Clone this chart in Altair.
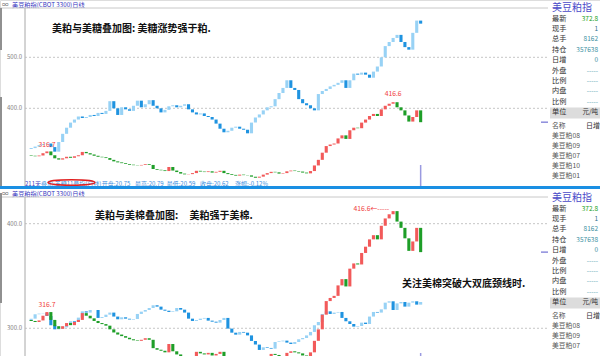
import altair as alt
import pandas as pd

FONT = "Noto Sans CJK SC"
NB = "\u00a0"

# ---------------- data read from the picture (100 sampled sessions) ----------------
# 美豆粕指 closes (left axis, 元/吨)
meal_close = [307, 306, 307.5, 312, 315.5, 308, 302, 299.5, 302, 305,
              303, 306, 308, 314.5, 312, 309.5, 307, 305, 304, 302.5,
              299, 296, 294, 292.5, 291, 289.5, 288.5, 288, 289, 290.5,
              289, 281, 279.5, 278.5, 277, 285, 278, 275, 272, 270.5,
              271, 273, 277.5, 276, 275, 276.5, 274, 275.5, 277.5, 273,
              271, 269.5, 268, 270, 269, 268.5, 266, 264, 266, 270,
              273, 275.5, 274.5, 272, 273, 276.5, 278, 277, 276, 274,
              272.5, 277, 288, 299, 313, 326, 329, 331, 341, 347,
              340, 357, 362, 361, 372, 378, 385, 389, 385, 398,
              405, 409, 412, 402, 396, 386, 374, 383, 396, 372.8]
meal_first_open = 308

# 美糖11号指 overlay, expressed on the top panel's axis
sugar_close = [322, 325, 328, 330, 331, 324, 315, 334, 350, 362,
               372, 378, 384, 381, 383, 387, 385, 391, 389, 395,
               414, 400, 387, 402, 398, 395, 405, 415, 402, 408,
               416, 405, 400, 392, 397, 404, 406, 402, 405, 408,
               398, 392, 388, 390, 385, 383, 378, 370, 360, 353,
               356, 362, 364, 360, 358, 351, 372, 382, 388, 396,
               402, 404, 418, 430, 440, 455, 440, 436, 418, 410,
               406, 400, 396, 428, 434, 438, 443, 446, 450, 455,
               440, 455, 468, 466, 470, 466, 460, 472, 482, 500,
               522, 530, 538, 544, 530, 520, 515, 548, 572, 566]
sugar_first_open = 320

# 美棉 overlay, expressed on the bottom panel's axis
cotton_close = [309.2, 313.4, 314, 314.3, 311.8, 302.9, 299, 299.7, 300.9, 303.5,
                306.7, 306, 310.2, 316.2, 315, 317.5, 317.5, 309.9, 310.8, 313,
                315, 311.2, 308.6, 310.5, 309.2, 308.3, 308.9, 313.7, 315.9, 317.5,
                319.4, 322, 320.7, 317.8, 316.8, 315.6, 316.2, 319.4, 317.8, 315,
                309.2, 307, 307.9, 309.2, 309.9, 307.3, 306.3, 305.4, 307.9, 309.9,
                299.7, 295.8, 293.9, 296.5, 295.8, 293.2, 287.9, 284.4, 279.3, 281.8,
                281.2, 280.5, 286.9, 287.5, 288.2, 286.3, 285, 286.9, 289.5, 290.7,
                293.2, 296.5, 302.9, 306, 313.7, 316.2, 313.7, 315, 315.6, 309.9,
                306.7, 304.1, 301.6, 302.2, 305.4, 304.1, 311.2, 315.6, 315, 318.1,
                324.5, 325.8, 317.5, 323.8, 325.1, 320.7, 324.5, 325.8, 322.6, 325.1]
cotton_first_open = 307

top_grid = [500, 400]
bottom_grid = [400, 300]
marked_idx = [4, 92]
marked_val = [316.7, 416.6]
last_price = 372.8

info_labels = ["最新", "现手", "总手", "持仓", "日增", "外盘", "比例", "内盘", "比例", "单位"]
info_values = ["372.8", "1", "8162", "357638", "0", "-----", "-----", "-----", "-----", "元/吨"]
contracts = ["美豆粕08", "美豆粕09", "美豆粕07", "美豆粕10", "美豆粕01", "美豆粕12"]
quote_items = ["开盘:20.75", "最高:20.79", "最低:20.59", "收盘:20.62", "涨幅:-0.12%"]

# ---------------- styling ----------------
UP_RED, DOWN_GREEN = "#f25a5a", "#1e9e28"
UP_BLUE, DOWN_BLUE = "#98d2f5", "#1f93e0"
value_colors = ["#22a022", "#2f6f8f", "#3d8f9f", "#3d8f9f", "#3d8f9f",
                "#5aa0b0", "#5aa0b0", "#5aa0b0", "#5aa0b0", "#333333"]

X = alt.Scale(domain=[-0.3, 130.1], range=[25, 548])
YT = alt.Scale(domain=[247.7, 596.7], range=[186, 8])
YB = alt.Scale(domain=[273.5, 425.5], range=[356, 197])

one = pd.DataFrame({"k": [0]})


def candles(close, first_open, up, down):
    opens = [first_open] + close[:-1]
    return pd.DataFrame({
        "i": list(range(len(close))),
        "open": opens,
        "close": close,
        "c": [up if c >= o else down for o, c in zip(opens, close)],
    })


def candle_layer(df, ys):
    return alt.Chart(df).mark_bar(width=3.1, clip=True).encode(
        x=alt.X("i:Q", scale=X, axis=None),
        y=alt.Y("open:Q", scale=ys, axis=None),
        y2="close:Q",
        color=alt.Color("c:N", scale=None),
    )


def label(txt, x, y, size=6.5, color="#333333", align="left", weight="normal",
          baseline="middle"):
    return alt.Chart(one).mark_text(
        text=txt, align=align, baseline=baseline, fontSize=size,
        color=color, font=FONT, fontWeight=weight,
    ).encode(x=alt.value(x), y=alt.value(y))


def hline(x1, x2, y, color, width=1.0, dash=None):
    kw = dict(color=color, strokeWidth=width)
    if dash:
        kw["strokeDash"] = dash
    return alt.Chart(one).mark_rule(**kw).encode(
        x=alt.value(x1), x2=alt.value(x2), y=alt.value(y))


def vline(x, y1, y2, color, width=1.0):
    return alt.Chart(one).mark_rule(color=color, strokeWidth=width).encode(
        x=alt.value(x), y=alt.value(y1), y2=alt.value(y2))


def rect(x1, x2, y1, y2, color):
    return alt.Chart(one).mark_rect(color=color).encode(
        x=alt.value(x1), x2=alt.value(x2), y=alt.value(y1), y2=alt.value(y2))


def grid_layers(vals, ys):
    df = pd.DataFrame({"v": vals})
    g = alt.Chart(df).mark_rule(color="#b8b8b8", strokeDash=[2, 2], strokeWidth=0.8).encode(
        y=alt.Y("v:Q", scale=ys, axis=None), x=alt.value(25), x2=alt.value(548))
    t = alt.Chart(df).mark_text(align="right", baseline="middle", fontSize=6,
                                color="#808080", font=FONT).encode(
        y=alt.Y("v:Q", scale=ys, axis=None), x=alt.value(22),
        text=alt.Text("v:Q", format=".1f"))
    return [g, t]


def info_panel(offset, n_contracts):
    rows = pd.DataFrame({
        "lab": info_labels, "val": info_values, "col": value_colors,
        "py": [offset + 18.5 + 10.4 * r for r in range(len(info_labels))],
    })
    names = ["名称"] + contracts[:n_contracts]
    cons = pd.DataFrame({
        "lab": names,
        "py": [offset + 126 + 10 * r for r in range(len(names))],
    })
    layers = [
        rect(550, 600, offset + 107.5, offset + 118.5, "#dcdcdc"),
        label("美豆粕指", 552, offset + 7.5, size=10, color="#4a4ac8"),
        alt.Chart(rows).mark_text(align="left", baseline="middle", fontSize=7.2,
                                  color="#303030", font=FONT).encode(
            x=alt.value(552), y=alt.Y("py:Q", scale=None), text="lab:N"),
        alt.Chart(rows).mark_text(align="right", baseline="middle", fontSize=6.5,
                                  font=FONT).encode(
            x=alt.value(598), y=alt.Y("py:Q", scale=None), text="val:N",
            color=alt.Color("col:N", scale=None)),
        alt.Chart(cons).mark_text(align="left", baseline="middle", fontSize=6.8,
                                  color="#555555", font=FONT).encode(
            x=alt.value(552), y=alt.Y("py:Q", scale=None), text="lab:N"),
        label("日增", 600, offset + 126, size=7, color="#303030", align="right"),
    ]
    return layers


meal_df = candles(meal_close, meal_first_open, UP_RED, DOWN_GREEN)
sugar_df = candles(sugar_close, sugar_first_open, UP_BLUE, DOWN_BLUE)
cotton_df = candles(cotton_close, cotton_first_open, UP_BLUE, DOWN_BLUE)
marks_df = pd.DataFrame({"i": marked_idx, "v": marked_val})
last_df = pd.DataFrame({"v": [last_price], "i": [len(meal_close) - 1]})

layers = []

# ---------------- top panel ----------------
layers += [
    label("∞", 2, 4.5, size=6.5, color="#707070"),
    label("美豆粕指(CBOT 3300)日线", 12, 4.5, size=6.2, color="#3535c0"),
    hline(0, 548, 8, "#c8c8c8"),
    vline(25, 8, 186, "#a8a8a8"),
    vline(1, 8, 50, "#909090", 2),
    vline(1, 97, 186, "#909090", 2),
]
layers += grid_layers(top_grid, YT)
layers += [candle_layer(sugar_df, YT), candle_layer(meal_df, YT)]
layers += [
    alt.Chart(marks_df).mark_text(align="center", baseline="bottom", dy=-3,
                                  fontSize=6.8, color="#f03c3c", font=FONT).encode(
        x=alt.X("i:Q", scale=X, axis=None), y=alt.Y("v:Q", scale=YT, axis=None),
        text=alt.Text("v:Q", format=".1f")),
    alt.Chart(last_df).mark_rule(color="#8c8cdc", strokeWidth=1.5).encode(
        y=alt.Y("v:Q", scale=YT, axis=None), x=alt.value(541), x2=alt.value(548)),
    alt.Chart(last_df).mark_rule(color="#9a9ae0", strokeWidth=1.5).encode(
        x=alt.X("i:Q", scale=X, axis=None), y=alt.value(165), y2=alt.value(186)),
    label("美粕与美糖叠加图: 美糖涨势强于粕.", 52, 29, size=10, color="#111111", weight="bold"),
    label("211天", 25, 183.5, size=6, color="#3c3cc0"),
    label("叠加:美糖11号指(日线)", 41, 183.5, size=6, color="#3a8ee0"),
]
for item, x0 in zip(quote_items, [101.7, 135, 166.7, 200, 235]):
    layers.append(label(item, x0, 183.5, size=6, color="#3a8ee0"))
layers.append(
    alt.Chart(one).mark_point(
        shape="M-1,0A1,0.117,0,1,1,1,0A1,0.117,0,1,1,-1,0Z",
        size=2209, filled=False, stroke="#e02020", strokeWidth=1.4, opacity=1,
    ).encode(x=alt.value(71.5), y=alt.value(182.5))
)
layers += info_panel(0, 5)

# ---------------- bottom panel ----------------
layers += [
    rect(0, 600, 189, 197, "#ffffff"),
    label("∞", 2, 193.5, size=6.5, color="#707070"),
    label("美豆粕指(CBOT 3300)日线", 12, 193.5, size=6.2, color="#3535c0"),
    hline(0, 548, 197, "#c8c8c8"),
    vline(25, 197, 356, "#a8a8a8"),
    vline(1, 193, 303, "#909090", 2),
]
layers += grid_layers(bottom_grid, YB)
layers += [candle_layer(cotton_df, YB), candle_layer(meal_df, YB)]
bottom_low = marks_df.iloc[[0]]
bottom_high = marks_df.iloc[[1]]
layers += [
    alt.Chart(bottom_low).mark_text(align="center", baseline="bottom", dy=-3,
                                    fontSize=6.8, color="#f03c3c", font=FONT).encode(
        x=alt.X("i:Q", scale=X, axis=None), y=alt.Y("v:Q", scale=YB, axis=None),
        text=alt.Text("v:Q", format=".1f")),
    alt.Chart(bottom_high).mark_text(align="right", baseline="middle", dx=-4, dy=3,
                                     fontSize=6.8, color="#f03c3c", font=FONT).encode(
        x=alt.X("i:Q", scale=X, axis=None), y=alt.Y("v:Q", scale=YB, axis=None),
        text=alt.value("416.6←-----")),
    alt.Chart(last_df).mark_rule(color="#8c8cdc", strokeWidth=1.5).encode(
        y=alt.Y("v:Q", scale=YB, axis=None), x=alt.value(541), x2=alt.value(548)),
    alt.Chart(last_df).mark_rule(color="#9a9ae0", strokeWidth=1.5).encode(
        x=alt.X("i:Q", scale=X, axis=None), y=alt.value(353), y2=alt.value(356)),
    label("美粕与美棉叠加图:" + NB * 5 + "美粕强于美棉.", 95, 216, size=10,
          color="#111111", weight="bold"),
    label("关注美棉突破大双底颈线时.", 402, 284, size=10, color="#111111", weight="bold"),
]
layers += info_panel(190, 3)

# blue separator between the two panels
layers.append(hline(0, 600, 187.5, "#1a8fe3", 3))

chart = alt.layer(*layers).properties(
    width=600, height=356, padding=0, autosize="none",
).resolve_scale(y="independent").configure_view(strokeWidth=0).configure(background="white")

chart.save("out.html", embed_options={"renderer": "svg", "actions": False})
